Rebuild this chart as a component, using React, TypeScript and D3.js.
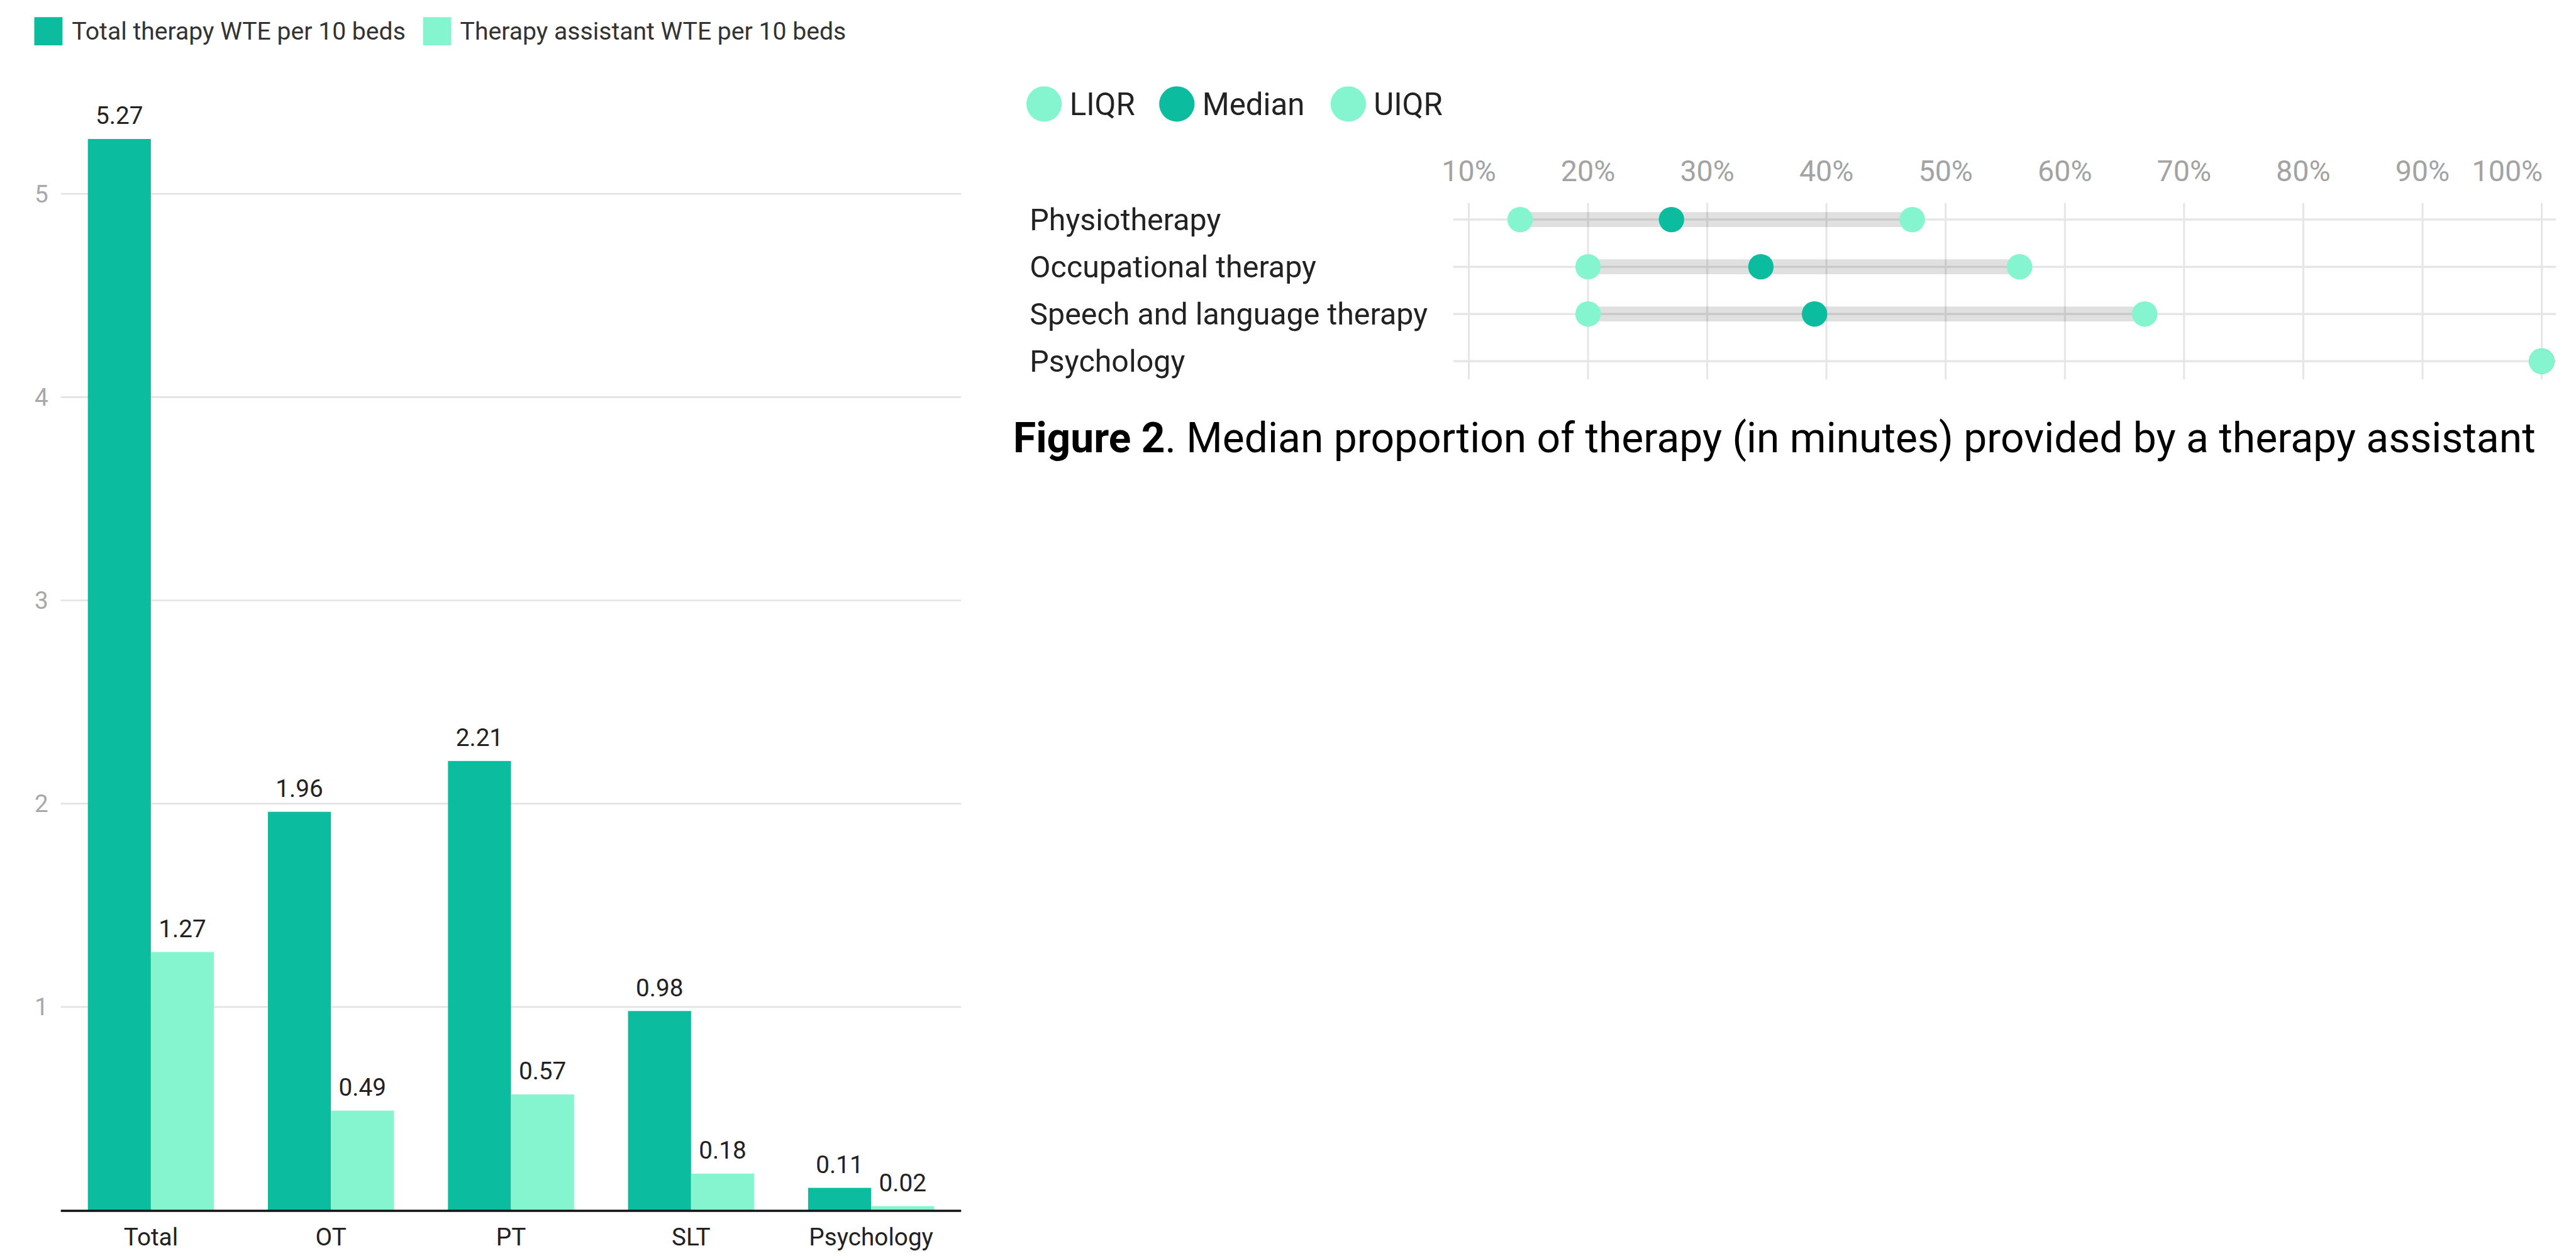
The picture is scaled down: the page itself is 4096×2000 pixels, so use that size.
import React from 'react';
import * as d3 from 'd3';

// bar chart data
const categories = ['Total', 'OT', 'PT', 'SLT', 'Psychology'];
const totalWte = [5.27, 1.96, 2.21, 0.98, 0.11];
const assistantWte = [1.27, 0.49, 0.57, 0.18, 0.02];
const barSeries = ['Total therapy WTE per 10 beds', 'Therapy assistant WTE per 10 beds'];
const yTicks = [1, 2, 3, 4, 5];

// range plot data (percent)
const therapies = ['Physiotherapy', 'Occupational therapy', 'Speech and language therapy', 'Psychology'];
const liqr = [14.3, 20, 20, 100];
const median = [27.0, 34.5, 39.0, 100];
const uiqr = [47.2, 56.2, 66.7, 100];
const xTicks = [10, 20, 30, 40, 50, 60, 70, 80, 90, 100];
const dotLegend = ['LIQR', 'Median', 'UIQR'];

const DARK = '#0bbc9f';
const LIGHT = '#84f5cf';
const FONT = 'Roboto, sans-serif';

export default function App() {
    // everything is laid out in reference pixels and scaled down once
    const k = 4096 / 4658;

    const x0 = d3.scaleBand().domain(categories).range([110, 1738]).paddingInner(0.3).paddingOuter(0.15);
    const x1 = d3.scaleBand().domain(['a', 'b']).range([0, x0.bandwidth()]);
    const y = d3.scaleLinear().domain([0, 5]).range([2188, 350.5]);

    const xr = d3.scaleLinear().domain([10, 100]).range([2656, 4596]);
    const yr = d3.scalePoint().domain(therapies).range([397, 653]);

    const dotColors = [LIGHT, DARK, LIGHT];
    const dotSeries = [liqr, median, uiqr];
    const legendX = [1888, 2128, 2438];

    return (
        <svg width={4096} height={2000} style={{position: 'absolute', left: 0, top: 0}} fontFamily={FONT}>
            <g transform={'scale(' + k + ')'}>
                {/* legend, left chart */}
                <rect x={62} y={31} width={51} height={51} fill={DARK}/>
                <text x={130} y={56} dy='0.35em' fontSize={44.5} fill='#333'>{barSeries[0]}</text>
                <rect x={765} y={31} width={51} height={51} fill={LIGHT}/>
                <text x={832} y={56} dy='0.35em' fontSize={44.5} fill='#333'>{barSeries[1]}</text>

                {/* grid + y labels */}
                {yTicks.map(t => (
                    <g key={t}>
                        <line x1={110} x2={1738} y1={y(t)} y2={y(t)} stroke='#e3e3e3' strokeWidth={3}/>
                        <text x={75} y={y(t)} dy='0.35em' textAnchor='middle' fontSize={44} fill='#a8a8a8'>{t}</text>
                    </g>
                ))}

                {/* bars */}
                {categories.map((c, i) => {
                    const gx = x0(c);
                    const vals = [totalWte[i], assistantWte[i]];
                    return (
                        <g key={c} transform={'translate(' + gx + ',0)'}>
                            {vals.map((v, j) => {
                                const bx = x1(j === 0 ? 'a' : 'b');
                                return (
                                    <g key={j}>
                                        <rect x={bx} y={y(v)} width={x1.bandwidth()} height={y(0) - y(v)}
                                              fill={j === 0 ? DARK : LIGHT}/>
                                        <text x={bx + x1.bandwidth() / 2} y={y(v) - 27} textAnchor='middle'
                                              fontSize={44} fill='#222'>{v.toFixed(2)}</text>
                                    </g>
                                );
                            })}
                            <text x={x0.bandwidth() / 2} y={2252} textAnchor='middle' fontSize={44} fill='#222'>{c}</text>
                        </g>
                    );
                })}
                <line x1={110} x2={1738} y1={y(0) + 1} y2={y(0) + 1} stroke='#111' strokeWidth={4}/>

                {/* legend, range chart */}
                {dotLegend.map((d, i) => (
                    <g key={d}>
                        <circle cx={legendX[i]} cy={188} r={32} fill={dotColors[i]}/>
                        <text x={legendX[i] + 46} y={188} dy='0.35em' fontSize={56} fill='#222'>{d}</text>
                    </g>
                ))}

                {/* x ticks + vertical grid */}
                {xTicks.map(t => (
                    <g key={t}>
                        <line x1={xr(t)} x2={xr(t)} y1={367} y2={686} stroke='#e6e6e6' strokeWidth={3.5}/>
                        <text x={t === 100 ? xr(t) + 2 : xr(t)} y={327} textAnchor={t === 100 ? 'end' : 'middle'}
                              fontSize={53} fill='#a3a3a3'>{t + '%'}</text>
                    </g>
                ))}

                {/* rows */}
                {therapies.map((t, i) => {
                    const cy = yr(t);
                    return (
                        <g key={t}>
                            <text x={1862} y={cy} dy='0.35em' fontSize={55} fill='#222'>{t}</text>
                            <line x1={2628} x2={4622} y1={cy} y2={cy} stroke='#e6e6e6' strokeWidth={4}/>
                            <rect x={xr(liqr[i])} y={cy - 13.5} width={xr(uiqr[i]) - xr(liqr[i])} height={27}
                                  fill='#000' fillOpacity={0.12}/>
                            {dotSeries.map((s, j) => (
                                <circle key={j} cx={xr(s[i])} cy={cy} r={23} fill={dotColors[j]}/>
                            ))}
                        </g>
                    );
                })}

                {/* caption */}
                <text x={1832} y={818} fontSize={75} fill='#000'>
                    <tspan fontWeight='bold'>Figure 2</tspan>
                    <tspan>. Median proportion of therapy (in minutes) provided by a therapy assistant</tspan>
                </text>
            </g>
        </svg>
    );
}
